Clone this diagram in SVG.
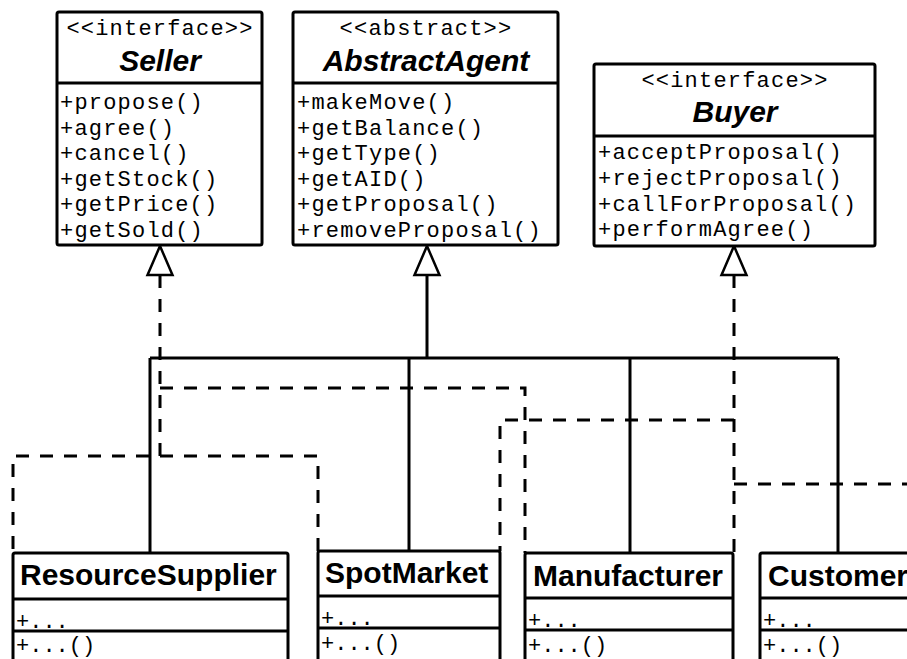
<svg xmlns="http://www.w3.org/2000/svg" width="907" height="659" viewBox="0 0 907 659">
<style>
.box{fill:#fff;stroke:#000;stroke-width:3}
.div{stroke:#000;stroke-width:3;fill:none}
.m{font-family:"Liberation Mono","DejaVu Sans Mono",monospace;font-size:22px;letter-spacing:1.2px;fill:#000}
.st{font-family:"Liberation Mono","DejaVu Sans Mono",monospace;font-size:22px;letter-spacing:1.2px;fill:#000;text-anchor:middle}
.nm{font-family:"Liberation Sans",Arial,sans-serif;font-size:30px;font-weight:bold;font-style:italic;fill:#000;text-anchor:middle}
.cn{font-family:"Liberation Sans",Arial,sans-serif;font-size:30px;font-weight:bold;fill:#000}
.a{font-family:"Liberation Mono","DejaVu Sans Mono",monospace;font-size:22px;fill:#000}
.sol{stroke:#000;stroke-width:3;fill:none}
.dash{stroke:#000;stroke-width:3;fill:none;stroke-dasharray:13 11}
.tri{fill:#fff;stroke:#000;stroke-width:2.5;stroke-linejoin:miter}
</style>
<defs>
<polygon id="tri" class="tri" points="0,0 12.5,29 -12.5,29"/>
</defs>
<g id="connectors">
<path class="sol" d="M427,275 V358 M150,358 H838 M150,358 V553 M409,358 V551 M630,358 V553 M838,358 V553"/>
<path class="dash" d="M160,275 V456 H13 V553"/>
<path class="dash" d="M160,456 H318 V551"/>
<path class="dash" d="M160,388 H525 V553"/>
<path class="dash" d="M734,275 V553"/>
<path class="dash" d="M734,420 H500 V551"/>
<path class="dash" d="M734,484 H910"/>
<use href="#tri" x="160" y="246"/>
<use href="#tri" x="427" y="246"/>
<use href="#tri" x="734" y="246"/>
</g>
<g id="Seller">
<rect class="box" x="57" y="12" width="205" height="233" rx="2"/>
<line class="div" x1="57" y1="83" x2="262" y2="83"/>
<text class="st" x="160" y="35">&lt;&lt;interface&gt;&gt;</text>
<text class="nm" x="160" y="71">Seller</text>
<text class="m" x="60" y="109">+propose()</text>
<text class="m" x="60" y="134.5">+agree()</text>
<text class="m" x="60" y="160">+cancel()</text>
<text class="m" x="60" y="185.5">+getStock()</text>
<text class="m" x="60" y="211">+getPrice()</text>
<text class="m" x="60" y="236.5">+getSold()</text>
</g>
<g id="AbstractAgent">
<rect class="box" x="293" y="12" width="265" height="233" rx="2"/>
<line class="div" x1="293" y1="83" x2="558" y2="83"/>
<text class="st" x="426" y="35">&lt;&lt;abstract&gt;&gt;</text>
<text class="nm" x="426" y="71">AbstractAgent</text>
<text class="m" x="297" y="109">+makeMove()</text>
<text class="m" x="297" y="134.5">+getBalance()</text>
<text class="m" x="297" y="160">+getType()</text>
<text class="m" x="297" y="185.5">+getAID()</text>
<text class="m" x="297" y="211">+getProposal()</text>
<text class="m" x="297" y="236.5">+removeProposal()</text>
</g>
<g id="Buyer">
<rect class="box" x="594" y="64" width="281" height="182" rx="2"/>
<line class="div" x1="594" y1="136" x2="875" y2="136"/>
<text class="st" x="735" y="87">&lt;&lt;interface&gt;&gt;</text>
<text class="nm" x="735" y="122">Buyer</text>
<text class="m" x="598" y="159">+acceptProposal()</text>
<text class="m" x="598" y="185">+rejectProposal()</text>
<text class="m" x="598" y="210.5">+callForProposal()</text>
<text class="m" x="598" y="236">+performAgree()</text>
</g>
<g id="ResourceSupplier">
<rect class="box" x="13" y="553" width="275" height="120" rx="2"/>
<line class="div" x1="13" y1="599" x2="288" y2="599"/>
<line class="div" x1="13" y1="631" x2="288" y2="631"/>
<text class="cn" x="20" y="585">ResourceSupplier</text>
<text class="a" x="16" y="628">+...</text>
<text class="a" x="16" y="652">+...()</text>
</g>
<g id="SpotMarket">
<rect class="box" x="318" y="551" width="182" height="120" rx="2"/>
<line class="div" x1="318" y1="596" x2="500" y2="596"/>
<line class="div" x1="318" y1="628" x2="500" y2="628"/>
<text class="cn" x="325" y="583">SpotMarket</text>
<text class="a" x="321" y="625">+...</text>
<text class="a" x="321" y="650">+...()</text>
</g>
<g id="Manufacturer">
<rect class="box" x="525" y="553" width="208" height="120" rx="2"/>
<line class="div" x1="525" y1="598" x2="733" y2="598"/>
<line class="div" x1="525" y1="630" x2="733" y2="630"/>
<text class="cn" x="533" y="586">Manufacturer</text>
<text class="a" x="528" y="627">+...</text>
<text class="a" x="528" y="652">+...()</text>
</g>
<g id="Customer">
<rect class="box" x="760" y="553" width="170" height="120" rx="2"/>
<line class="div" x1="760" y1="598" x2="930" y2="598"/>
<line class="div" x1="760" y1="630" x2="930" y2="630"/>
<text class="cn" x="768" y="586">Customer</text>
<text class="a" x="763" y="627">+...</text>
<text class="a" x="763" y="652">+...()</text>
</g>
</svg>
